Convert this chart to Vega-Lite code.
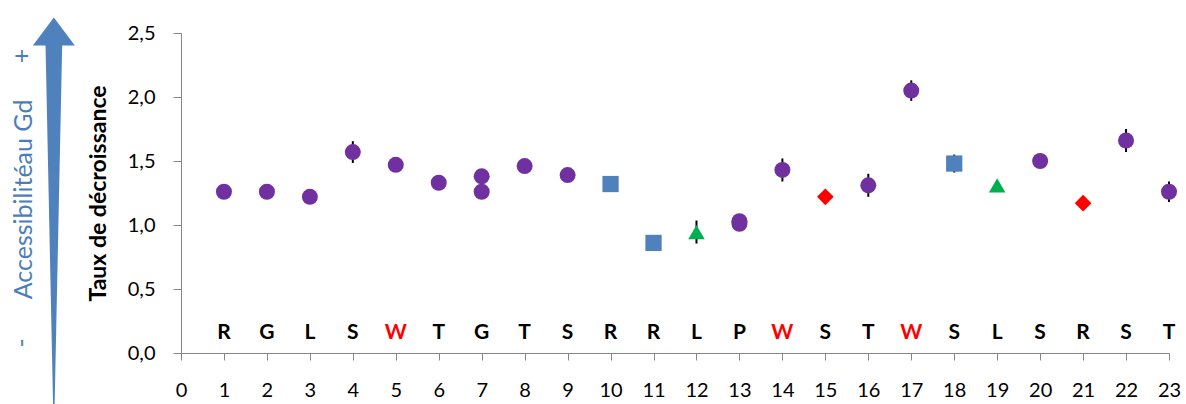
{
  "$schema": "https://vega.github.io/schema/vega-lite/v6.json",
  "width": 988,
  "height": 320,
  "autosize": "none",
  "padding": {"left": 181, "top": 33, "right": 17, "bottom": 51},
  "background": "white",
  "config": {
    "view": {"stroke": null},
    "font": "Lato",
    "axisX": {
      "format": "d", "labelFlush": false, "labelOverlap": false, "grid": false, "tickCount": 23,
      "domainColor": "#868686", "tickColor": "#868686", "tickSize": 7, "domainWidth": 1,
      "labelFontSize": 20, "labelColor": "black", "labelPadding": 20, "labelFont": "Lato"
    },
    "axisY": {
      "titleFontSize": 23, "titleFontWeight": "bold", "titleColor": "black", "titleFont": "Lato", "titlePadding": 17,
      "tickCount": 6, "labelFlush": false,
      "labelExpr": "replace(format(datum.value, '.1f'), '.', ',')",
      "grid": false, "domainColor": "#868686", "tickColor": "#868686", "tickSize": 8,
      "labelFontSize": 20, "labelColor": "black", "labelPadding": 18, "labelFont": "Lato"
    }
  },
  "datasets": {
    "pts": [
      {"pos": 1, "v": 1.26, "err": 0, "type": "cercle"},
      {"pos": 2, "v": 1.26, "err": 0, "type": "cercle"},
      {"pos": 3, "v": 1.22, "err": 0, "type": "cercle"},
      {"pos": 4, "v": 1.57, "err": 0.085, "type": "cercle"},
      {"pos": 5, "v": 1.47, "err": 0, "type": "cercle"},
      {"pos": 6, "v": 1.33, "err": 0, "type": "cercle"},
      {"pos": 7, "v": 1.38, "err": 0, "type": "cercle"},
      {"pos": 7, "v": 1.26, "err": 0, "type": "cercle"},
      {"pos": 8, "v": 1.46, "err": 0, "type": "cercle"},
      {"pos": 9, "v": 1.39, "err": 0, "type": "cercle"},
      {"pos": 10, "v": 1.32, "err": 0, "type": "carre"},
      {"pos": 11, "v": 0.86, "err": 0, "type": "carre"},
      {"pos": 12, "v": 0.945, "err": 0.09, "type": "triangle"},
      {"pos": 13, "v": 1.03, "err": 0, "type": "cercle"},
      {"pos": 13, "v": 1.01, "err": 0, "type": "cercle"},
      {"pos": 14, "v": 1.43, "err": 0.09, "type": "cercle"},
      {"pos": 15, "v": 1.22, "err": 0, "type": "losange"},
      {"pos": 16, "v": 1.31, "err": 0.09, "type": "cercle"},
      {"pos": 17, "v": 2.05, "err": 0.08, "type": "cercle"},
      {"pos": 18, "v": 1.48, "err": 0.07, "type": "carre"},
      {"pos": 19, "v": 1.31, "err": 0, "type": "triangle"},
      {"pos": 20, "v": 1.50, "err": 0, "type": "cercle"},
      {"pos": 21, "v": 1.17, "err": 0, "type": "losange"},
      {"pos": 22, "v": 1.66, "err": 0.09, "type": "cercle"},
      {"pos": 23, "v": 1.26, "err": 0.08, "type": "cercle"}
    ],
    "letters": [
      {"pos": 1, "aa": "R", "w": "n"},
      {"pos": 2, "aa": "G", "w": "n"},
      {"pos": 3, "aa": "L", "w": "n"},
      {"pos": 4, "aa": "S", "w": "n"},
      {"pos": 5, "aa": "W", "w": "y"},
      {"pos": 6, "aa": "T", "w": "n"},
      {"pos": 7, "aa": "G", "w": "n"},
      {"pos": 8, "aa": "T", "w": "n"},
      {"pos": 9, "aa": "S", "w": "n"},
      {"pos": 10, "aa": "R", "w": "n"},
      {"pos": 11, "aa": "R", "w": "n"},
      {"pos": 12, "aa": "L", "w": "n"},
      {"pos": 13, "aa": "P", "w": "n"},
      {"pos": 14, "aa": "W", "w": "y"},
      {"pos": 15, "aa": "S", "w": "n"},
      {"pos": 16, "aa": "T", "w": "n"},
      {"pos": 17, "aa": "W", "w": "y"},
      {"pos": 18, "aa": "S", "w": "n"},
      {"pos": 19, "aa": "L", "w": "n"},
      {"pos": 20, "aa": "S", "w": "n"},
      {"pos": 21, "aa": "R", "w": "n"},
      {"pos": 22, "aa": "S", "w": "n"},
      {"pos": 23, "aa": "T", "w": "n"}
    ]
  },
  "layer": [
    {
      "data": {"name": "pts"},
      "transform": [{"filter": "datum.err > 0"}],
      "mark": {"type": "errorbar", "color": "black", "thickness": 2},
      "encoding": {
        "x": {"field": "pos", "type": "quantitative", "scale": {"domain": [0, 23], "nice": false, "zero": false}, "title": null},
        "y": {"field": "v", "type": "quantitative", "scale": {"domain": [0, 2.5], "nice": false}, "title": "Taux de décroissance"},
        "yError": {"field": "err"}
      }
    },
    {
      "data": {"name": "pts"},
      "mark": {"type": "point", "filled": true, "opacity": 1, "strokeWidth": 0},
      "encoding": {
        "x": {"field": "pos", "type": "quantitative", "scale": {"domain": [0, 23], "nice": false, "zero": false}, "title": null},
        "y": {"field": "v", "type": "quantitative", "scale": {"domain": [0, 2.5], "nice": false}, "title": "Taux de décroissance"},
        "shape": {"field": "type", "type": "nominal", "legend": null,
          "scale": {"domain": ["cercle", "carre", "triangle", "losange"], "range": ["circle", "square", "triangle-up", "diamond"]}},
        "color": {"field": "type", "type": "nominal", "legend": null,
          "scale": {"domain": ["cercle", "carre", "triangle", "losange"], "range": ["#7030A0", "#4F81BD", "#00B050", "#FF0000"]}},
        "size": {"field": "type", "type": "nominal", "legend": null,
          "scale": {"domain": ["cercle", "carre", "triangle", "losange"], "range": [256, 280, 320, 290]}}
      }
    },
    {
      "data": {"name": "letters"},
      "mark": {"type": "text", "fontSize": 21, "fontWeight": "bold", "font": "Lato", "align": "center", "baseline": "middle"},
      "encoding": {
        "x": {"field": "pos", "type": "quantitative", "scale": {"domain": [0, 23], "nice": false, "zero": false}, "title": null},
        "y": {"datum": 0.16, "type": "quantitative", "scale": {"domain": [0, 2.5], "nice": false}, "title": "Taux de décroissance"},
        "text": {"field": "aa"},
        "color": {"condition": {"test": "datum.w == 'y'", "value": "#FF0000"}, "value": "black"}
      }
    },
    {
      "data": {"values": [{}]},
      "mark": {"type": "point", "filled": true, "opacity": 1, "strokeWidth": 0, "color": "#4F81BD", "size": 149769,
        "shape": "M0,-1L0.1085,-0.855L0.043,-0.855L0.004,1L-0.004,1L-0.043,-0.855L-0.1085,-0.855Z"},
      "encoding": {
        "x": {"datum": -2.96, "type": "quantitative", "scale": {"domain": [0, 23], "nice": false, "zero": false}, "title": null},
        "y": {"datum": 1.11, "type": "quantitative", "scale": {"domain": [0, 2.5], "nice": false}, "title": "Taux de décroissance"}
      }
    },
    {
      "data": {"values": [{"t": "Accessibilitéau Gd", "px": -3.66, "py": 1.2}, {"t": "+", "px": -3.7, "py": 2.32}, {"t": "-", "px": -3.7, "py": 0.08}]},
      "mark": {"type": "text", "angle": 270, "font": "Lato", "fontWeight": "normal", "fontSize": 25, "color": "#4A7EBB", "align": "center", "baseline": "middle"},
      "encoding": {
        "x": {"field": "px", "type": "quantitative", "scale": {"domain": [0, 23], "nice": false, "zero": false}, "title": null},
        "y": {"field": "py", "type": "quantitative", "scale": {"domain": [0, 2.5], "nice": false}, "title": "Taux de décroissance"},
        "text": {"field": "t"}
      }
    }
  ]
}
